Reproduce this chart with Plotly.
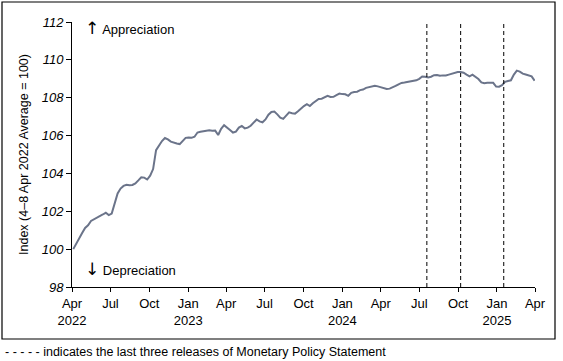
import pandas as pd
import plotly.graph_objects as go

# ---- data (weekly index, 4-8 Apr 2022 average = 100) ----
start_date = "2022-04-04"
index_values = [
    100.00, 100.26, 100.55, 100.85, 101.12, 101.26, 101.49, 101.57, 101.63, 101.72,
    101.83, 101.92, 101.80, 101.88, 102.40, 102.94, 103.20, 103.34, 103.40, 103.37,
    103.39, 103.47, 103.63, 103.80, 103.78, 103.68, 103.88, 104.23, 105.23, 105.47,
    105.71, 105.87, 105.80, 105.68, 105.62, 105.58, 105.55, 105.69, 105.88, 105.90,
    105.88, 105.94, 106.16, 106.20, 106.22, 106.26, 106.28, 106.25, 106.26, 106.03,
    106.36, 106.55, 106.44, 106.29, 106.16, 106.21, 106.42, 106.51, 106.38, 106.42,
    106.52, 106.68, 106.85, 106.75, 106.70, 106.85, 107.10, 107.25, 107.27, 107.12,
    106.95, 106.88, 107.06, 107.23, 107.18, 107.16, 107.28, 107.44, 107.56, 107.66,
    107.56, 107.71, 107.84, 107.93, 107.95, 108.04, 108.10, 108.04, 108.05, 108.14,
    108.22, 108.19, 108.18, 108.10, 108.26, 108.30, 108.32, 108.40, 108.43, 108.52,
    108.56, 108.63, 108.63, 108.60, 108.55, 108.51, 108.46, 108.48, 108.53, 108.62,
    108.71, 108.78, 108.80, 108.83, 108.89, 108.92, 108.92, 109.00, 109.12, 109.11,
    109.07, 109.11, 109.19, 109.20, 109.16, 109.18, 109.17, 109.22, 109.26, 109.34,
    109.36, 109.36, 109.32, 109.22, 109.13, 109.22, 109.10, 108.99, 108.81, 108.77,
    108.79, 108.78, 108.79, 108.59, 108.58, 108.66, 108.84, 108.88, 108.92, 109.22,
    109.43, 109.38, 109.27, 109.23, 109.20, 109.13, 108.90,
]
dates = pd.date_range(start=start_date, periods=len(index_values), freq="7D")

mps_dates = ["2024-07-19", "2024-10-07", "2025-01-17"]

tick_dates = ["2022-04-01", "2022-07-01", "2022-10-01", "2023-01-01", "2023-04-01",
              "2023-07-01", "2023-10-01", "2024-01-01", "2024-04-01", "2024-07-01",
              "2024-10-01", "2025-01-01", "2025-04-01"]
tick_labels = ["Apr<br>2022", "Jul", "Oct", "Jan<br>2023", "Apr", "Jul", "Oct",
               "Jan<br>2024", "Apr", "Jul", "Oct", "Jan<br>2025", "Apr"]
y_ticks = [98, 100, 102, 104, 106, 108, 110, 112]

FONT = "Liberation Sans, Arial, sans-serif"

fig = go.Figure()
fig.add_trace(go.Scatter(
    x=dates, y=index_values, mode="lines",
    line=dict(color="#6b748a", width=2),
    showlegend=False, hoverinfo="skip",
))

for d in mps_dates:
    fig.add_shape(type="line", xref="x", yref="y", x0=d, x1=d, y0=98, y1=112,
                  line=dict(color="black", width=1, dash="4px,3px"))

# outer border
L, R, T, B = 72, 535, 22, 287
W, H = R - L, B - T
def px(x):
    return (x - L) / W
def py(y):
    return (B - y) / H

fig.add_shape(type="rect", xref="paper", yref="paper",
              x0=px(2), x1=px(555), y0=py(339), y1=py(2),
              line=dict(color="black", width=1.2))

ARROW = '<span style="font-family:DejaVu Sans;font-size:17px">{}</span>'
fig.add_annotation(xref="paper", yref="paper", x=px(83), y=py(28),
                   xanchor="left", yanchor="middle", showarrow=False,
                   text=ARROW.format("↑") + " Appreciation",
                   font=dict(family=FONT, size=13, color="black"))
fig.add_annotation(xref="paper", yref="paper", x=px(83), y=py(269),
                   xanchor="left", yanchor="middle", showarrow=False,
                   text=ARROW.format("↓") + " Depreciation",
                   font=dict(family=FONT, size=13, color="black"))
fig.add_annotation(xref="paper", yref="paper", x=px(3), y=py(352),
                   xanchor="left", yanchor="middle", showarrow=False,
                   text="- - - - - indicates the last three releases of Monetary Policy Statement",
                   font=dict(family=FONT, size=12.5, color="black"))

fig.update_xaxes(
    type="date", range=["2022-04-01", "2025-04-01"],
    tickvals=tick_dates, ticktext=tick_labels,
    showline=True, linecolor="black", linewidth=1,
    ticks="outside", ticklen=4, tickcolor="black",
    showgrid=False, zeroline=False,
    tickfont=dict(family=FONT, size=13, color="black"),
)
fig.update_yaxes(
    range=[98, 112], tickvals=y_ticks,
    showline=True, linecolor="black", linewidth=1,
    ticks="outside", ticklen=5, tickcolor="black",
    showgrid=False, zeroline=False,
    tickfont=dict(family=FONT, size=13, color="black", style="italic"),
    title=dict(text="Index (4–8 Apr 2022 Average = 100)",
               font=dict(family=FONT, size=12.5, color="black"), standoff=10),
)

fig.update_layout(
    width=563, height=361,
    margin=dict(l=L, r=563 - R, t=T, b=361 - B),
    plot_bgcolor="white", paper_bgcolor="white",
    font=dict(family=FONT, color="black"),
)

fig.write_html("out.html", config={"displayModeBar": False},
               post_script="document.body.style.margin='0';")
